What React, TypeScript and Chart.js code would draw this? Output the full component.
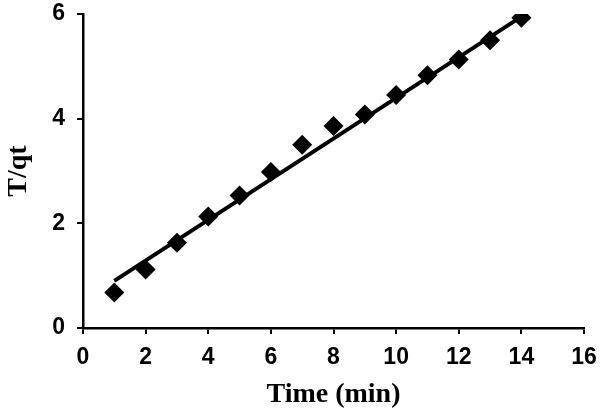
import React, { useEffect, useRef } from "react";
import { Chart, registerables } from "chart.js";

Chart.register(...registerables);

const timeMin = [1, 2, 3, 4, 5, 6, 7, 8, 9, 10, 11, 12, 13, 14];
const tOverQt = [0.68, 1.12, 1.63, 2.13, 2.53, 2.98, 3.5, 3.86, 4.08, 4.45, 4.83, 5.13, 5.5, 5.93];
const fitX = [1, 14];
const fitY = [0.9, 5.95];
const xTitle = "Time (min)";
const yTitle = "T/qt";

export default function App() {
  const ref = useRef<HTMLCanvasElement>(null);
  useEffect(() => {
    if (!ref.current) return;
    const tickFont = { family: "'Liberation Sans', Arial, sans-serif", size: 23, weight: "bold" as const };
    const titleFont = { family: "'Liberation Serif', 'Times New Roman', serif", size: 28, weight: "bold" as const };
    const chart = new Chart(ref.current, {
      type: "scatter",
      data: {
        datasets: [
          {
            type: "line",
            label: "fit",
            data: fitX.map((x, i) => ({ x, y: fitY[i] })),
            borderColor: "#000",
            borderWidth: 4,
            pointRadius: 0,
            fill: false,
          },
          {
            type: "scatter",
            label: "data",
            data: timeMin.map((x, i) => ({ x, y: tOverQt[i] })),
            pointStyle: "rectRot",
            pointRadius: 10,
            backgroundColor: "#000",
            borderColor: "#000",
            borderWidth: 0,
          },
        ],
      },
      options: {
        animation: false,
        responsive: false,
        layout: { padding: { left: 0, right: 16, top: 14, bottom: 0 } },
        plugins: { legend: { display: false }, tooltip: { enabled: false } },
        scales: {
          x: {
            type: "linear",
            min: 0,
            max: 16,
            ticks: { stepSize: 2, color: "#000", font: tickFont, padding: 10, maxRotation: 0 },
            grid: { drawOnChartArea: false, drawTicks: true, tickLength: 6, color: "#000", lineWidth: 2 },
            border: { display: true, color: "#000", width: 2.5 },
            title: { display: true, text: xTitle, color: "#000", font: titleFont, padding: { top: 2, bottom: 2 } },
            afterFit: (s: any) => { s.height = 86; s.paddingLeft = 0; s.paddingRight = 0; },
          },
          y: {
            type: "linear",
            min: 0,
            max: 6,
            ticks: { stepSize: 2, color: "#000", font: tickFont, padding: 12 },
            grid: { drawOnChartArea: false, drawTicks: true, tickLength: 6, color: "#000", lineWidth: 2 },
            border: { display: true, color: "#000", width: 2.5 },
            title: { display: true, text: yTitle, color: "#000", font: titleFont, padding: { top: 2, bottom: 4 } },
            afterFit: (s: any) => { s.width = 83; s.paddingTop = 0; s.paddingBottom = 0; },
          },
        },
      },
    });
    return () => chart.destroy();
  }, []);
  return (
    <div style={{ position: "absolute", left: 0, top: 0, width: 600, height: 414, background: "#fff" }}>
      <canvas ref={ref} width={600} height={414} />
    </div>
  );
}
